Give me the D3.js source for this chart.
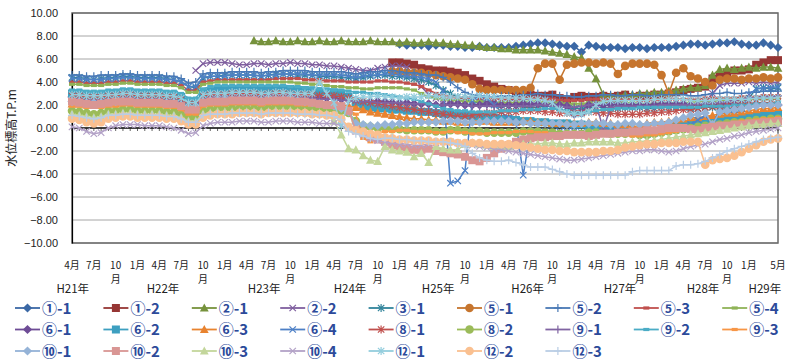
<!DOCTYPE html>
<html>
<head>
<meta charset="utf-8">
<script src="https://cdn.jsdelivr.net/npm/d3@7"></script>
<style>
  body { margin: 0; background: #fff; }
  svg { display: block; }
</style>
</head>
<body>
<div id="chart"></div>
<script>
// months run from 4月 H21 (index 0) to 5月 H29 (index 97)
const lead = (n, vals) => Array(n).fill(null).concat(vals);

const seriesNames = ['①-1','①-2','②-1','②-2','③-1','⑤-1','⑤-2','⑤-3','⑤-4',
  '⑥-1','⑥-2','⑥-3','⑥-4','⑧-1','⑧-2','⑨-1','⑨-2','⑨-3',
  '⑩-1','⑩-2','⑩-3','⑩-4','⑫-1','⑫-2','⑫-3'];

const seriesColors = ['#3b68a5','#963634','#76923c','#7f5f9f','#31849b','#c6752e','#4979b5','#c0504d','#8fb357',
  '#6e4c96','#3d9fc0','#e8832f','#4e80c6','#c0504d','#9bbb59','#8064a2','#4bacc6','#f79646',
  '#95b3d7','#d99694','#c3d69b','#b3a2c7','#93cddd','#fac090','#b9cde5'];

const seriesMarkers = ['diamond','square','triangle','x','star','circle','plus','dash','dash',
  'diamond','square','triangle','x','star','circle','plus','dash','dash',
  'diamond','square','triangle','x','star','circle','plus'];

const s01 = lead(45, [7.3,7.2,7.2,
  7.2,7.1,7.2,7.2,7.1,7.1,7.0,7.0,7.1,7.0,7.0,7.0,
  7.0,7.1,7.2,7.3,7.4,7.4,7.3,7.2,7.1,7.1,6.6,7.2,
  7.1,7.0,7.0,7.0,6.9,7.0,7.0,6.9,7.0,7.0,7.0,7.1,
  7.2,7.3,7.3,7.2,7.3,7.4,7.4,7.5,7.3,7.2,7.2,7.4,
  7.2,7.0]);
const s02 = lead(44, [5.7,5.7,5.6,5.5,
  5.2,5.1,5.0,5.0,4.9,4.8,4.6,4.3,4.1,3.8,3.6,3.4,
  3.3,3.0,2.9,2.9,2.8,2.8,2.9,2.6,2.4,2.7,2.8,2.7,
  2.7,2.8,2.7,2.8,2.9,2.7,2.8,2.8,2.9,2.9,3.0,3.1,
  3.3,3.4,3.5,3.6,4.3,4.6,4.8,5.0,5.0,5.1,5.5,5.7,
  5.9,5.9]);
const s03 = lead(25, [7.6,7.5,7.5,7.6,7.5,7.5,7.6,7.5,7.5,7.6,7.5,
  7.5,7.6,7.5,7.5,7.5,7.6,7.5,7.5,7.5,7.4,7.5,7.4,
  7.4,7.5,7.4,7.4,7.3,7.3,7.2,7.2,7.1,7.0,7.0,6.9,
  6.9,6.8,6.8,6.8,6.8,6.7,6.6,6.5,6.4,6.2,6.1,5.2,
  4.3,2.9,2.8,2.8,2.9,2.9,3.0,3.0,3.1,3.1,3.2,3.3,
  3.4,3.5,3.5,3.7,4.6,5.1,5.2,5.1,5.2,5.3,5.2,5.3,
  5.3,5.2]);
const s04 = lead(17, [5.0,5.6,5.7,5.7,5.7,5.6,5.5,
  5.5,5.6,5.6,5.5,5.6,5.6,5.7,5.6,5.6,5.5,5.5,5.4,
  5.4,5.3,5.2,5.1,5.0,5.0,5.2,5.3,5.4,5.4,5.3,4.6,
  3.6,2.9,2.6,2.5,2.5,2.4,2.4,2.5,2.5,2.4,2.5,2.5,
  2.4,2.4,2.5,2.5,2.6,2.5,2.4,2.3,2.2,1.3,1.4,2.3,
  2.3,2.2,2.2,2.3,2.2,2.2,2.1,2.0,2.0,2.1,2.1,2.0,
  1.9,1.8,1.7,2.2,3.0,3.7,3.9,3.9,3.9,4.0,3.9,4.0,
  3.9,4.0]);
const s05 = [4.4,4.4,4.3,4.2,4.3,4.4,4.4,4.5,4.5,4.4,4.4,4.4,
  4.4,4.3,4.2,4.0,3.6,3.5,4.3,4.5,4.5,4.6,4.6,4.6,
  4.6,4.6,4.5,4.6,4.7,4.7,4.7,4.6,4.6,4.6,4.5,4.5,
  4.5,4.4,4.4,4.3,4.4,4.5,4.6,4.6,4.5,4.5,4.4,4.3,
  4.2,4.0,3.7,3.3,3.0,2.7,2.5,2.3,2.2,2.1,2.0,2.0,
  1.9,1.9,1.8,1.8,1.8,1.9,1.9,1.8,1.8,1.7,1.7,1.8,
  1.8,1.8,1.7,1.7,1.8,1.8,1.8,1.7,1.7,1.8,1.8,1.8,
  1.8,1.7,1.7,1.8,1.8,1.8,1.7,1.7,1.8,2.6,3.4,3.5,
  3.4,3.5];
const s06 = lead(44, [4.9,4.9,4.8,4.8,
  4.8,4.7,4.6,4.5,4.4,4.3,4.2,3.8,3.4,3.3,3.3,3.3,
  3.3,3.3,3.3,3.5,5.2,5.6,5.6,4.2,5.5,5.6,5.7,5.7,
  5.6,5.7,5.6,4.7,5.4,5.6,5.6,5.6,5.5,4.6,3.0,4.8,
  5.2,4.5,4.3,4.0,3.7,4.2,4.3,4.3,4.2,4.3,4.3,4.4,
  4.3,4.4]);
const s07 = [4.6,4.6,4.5,4.5,4.6,4.6,4.6,4.7,4.7,4.6,4.6,4.6,
  4.6,4.5,4.5,4.3,3.9,4.0,4.7,4.8,4.8,4.8,4.9,4.9,
  4.9,4.9,4.8,4.9,4.9,5.0,5.0,5.0,5.0,4.9,4.9,4.9,
  4.9,4.9,4.8,4.7,4.8,4.9,4.9,5.0,5.0,4.9,4.8,4.8,
  4.7,4.6,4.6,4.4,4.0,3.5,3.1,2.9,2.8,2.7,2.7,2.8,
  2.8,2.8,2.9,2.9,3.0,2.9,2.9,2.8,2.8,2.7,2.7,2.8,
  2.8,2.9,2.9,2.8,2.8,2.9,2.9,2.8,2.8,2.9,2.9,2.9,
  2.9,2.8,2.8,2.9,3.0,3.0,3.1,3.0,3.0,3.1,3.1,3.2,
  3.2,3.2];
const s08 = [4.0,4.0,3.9,3.9,3.9,4.0,4.0,4.1,4.1,4.0,4.0,4.0,
  4.0,3.9,3.9,3.7,3.3,3.3,4.0,4.1,4.2,4.2,4.2,4.2,
  4.2,4.2,4.2,4.2,4.3,4.3,4.3,4.3,4.2,4.2,4.2,4.1,
  4.1,4.1,4.0,4.0,4.0,4.0,4.1,4.1,4.0,4.0,3.9,3.8,
  3.6,3.3,3.0,2.8,2.7,2.6,2.6,2.6,2.6,2.5,2.5,2.5,
  2.5,2.5,2.6,2.6,2.6,2.5,2.5,2.4,2.4,2.4,2.4,2.5,
  2.5,2.5,2.5,2.5,2.5,2.5,2.4,2.4,2.4,2.5,2.5,2.5,
  2.5,2.5,2.5,2.6,2.6,2.6,2.6,2.6,2.7,2.7,2.7,2.8,
  2.8,2.8];
const s09 = [3.8,3.8,3.7,3.7,3.7,3.8,3.8,3.9,3.9,3.8,3.8,3.8,
  3.8,3.7,3.7,3.5,3.1,3.1,3.8,3.9,4.0,4.0,4.0,4.0,
  4.0,4.0,4.0,4.0,4.0,4.0,4.0,3.9,3.9,3.8,3.8,3.7,
  3.6,3.6,3.5,3.5,3.4,3.4,3.5,3.5,3.5,3.5,3.4,3.3,
  3.0,2.7,2.6,2.5,2.4,2.4,2.3,2.3,2.3,2.3,2.2,2.2,
  2.2,2.2,2.3,2.3,2.3,2.2,2.2,2.2,2.1,2.1,2.1,2.2,
  2.2,2.2,2.2,2.2,2.2,2.2,2.1,2.1,2.1,2.2,2.2,2.2,
  2.2,2.2,2.3,2.3,2.3,2.4,2.4,2.4,2.4,2.5,2.5,2.5,
  2.5,2.5];
const s10 = [2.7,2.7,2.6,2.6,2.6,2.7,2.7,2.8,2.8,2.7,2.7,2.7,
  2.7,2.6,2.6,2.4,2.1,2.1,2.7,2.8,2.8,2.8,2.8,2.8,
  2.8,2.8,2.7,2.8,2.8,2.8,2.8,2.7,2.7,2.7,2.6,2.6,
  2.6,2.5,2.5,2.4,2.3,2.3,2.3,2.3,2.2,2.2,2.2,2.1,
  2.1,2.1,2.0,2.0,2.1,2.1,2.0,2.0,2.0,2.1,2.1,2.0,
  2.0,2.0,2.1,2.1,2.1,2.0,2.0,2.0,1.9,1.2,1.3,2.0,
  2.0,2.0,2.1,2.1,2.0,2.0,2.0,2.0,2.0,2.1,2.1,2.1,
  2.1,2.0,2.0,2.1,2.1,2.1,2.1,2.1,2.1,2.1,2.1,2.0,
  2.0,2.0];
const s11 = [3.0,3.0,2.9,2.9,2.9,3.0,3.0,3.1,3.1,3.0,3.0,3.0,
  3.0,2.9,2.9,2.7,2.3,2.3,3.0,3.2,3.3,3.3,3.3,3.3,
  3.3,3.3,3.3,3.3,3.4,3.4,3.4,3.3,3.3,3.2,3.2,3.1,
  3.1,3.0,2.7,2.2,1.9,1.8,1.7,1.7,1.6,1.6,1.5,1.5,
  1.4,1.4,1.3,1.2,1.2,1.1,1.1,1.0,1.0,0.9,0.9,0.8,
  0.8,0.7,0.6,0.6,0.5,0.5,0.4,0.4,0.4,0.3,0.3,0.2,
  0.2,0.1,0.1,0.0,0.0,-0.2,-0.4,-0.5,-0.4,-0.2,0.0,0.2,
  0.3,0.4,0.5,0.6,0.7,0.8,0.8,0.9,0.9,1.0,1.0,1.1,
  1.1,1.2];
const s12 = [2.1,2.1,2.0,2.0,2.0,2.1,2.1,2.2,2.2,2.1,2.1,2.1,
  2.1,2.0,2.0,1.8,1.4,1.4,2.1,2.2,2.2,2.2,2.3,2.3,
  2.3,2.3,2.2,2.3,2.3,2.3,2.3,2.2,2.2,2.2,2.1,2.1,
  2.1,2.0,1.9,1.8,1.6,1.4,1.3,1.2,1.1,1.0,0.9,0.8,
  0.8,0.7,0.7,0.6,0.6,0.5,0.5,0.6,0.6,0.6,0.5,0.5,
  0.5,0.5,0.6,0.6,0.5,0.5,0.4,0.4,0.4,0.4,0.4,0.5,
  0.5,0.4,0.4,0.3,0.3,0.3,0.3,0.4,0.5,0.5,0.6,0.7,
  0.8,0.9,0.9,1.0,1.1,1.2,1.3,1.3,1.4,1.5,1.6,1.7,
  1.7,1.8];
const s13 = [4.3,4.3,4.2,4.2,4.2,4.3,4.3,4.4,4.4,4.3,4.3,4.3,
  4.3,4.2,4.2,4.0,3.6,3.6,4.4,4.5,4.5,4.5,4.6,4.6,
  4.6,4.6,4.5,4.6,4.6,4.7,4.7,4.7,4.7,4.6,4.6,4.6,
  4.6,4.6,4.5,4.4,4.5,4.6,4.6,4.7,4.7,4.6,4.5,4.5,
  4.4,4.3,4.0,3.2,-4.8,-4.6,-3.7,2.4,2.8,2.6,2.0,1.4,
  0.8,0.5,-4.1,-0.3,-0.3,-0.3,-0.4,-0.3,-0.3,-0.3,-0.4,-0.3,
  -0.4,-0.3,-0.3,-0.3,-0.4,-0.3,-0.3,-0.3,-0.3,-0.2,-0.3,-0.2,
  0.0,0.3,0.7,1.1,0.3,1.5,1.6,1.6,1.7,2.9,3.4,3.5,
  3.5,3.6];
const s14 = [2.8,2.8,2.7,2.7,2.7,2.8,2.8,2.9,2.9,2.8,2.8,2.8,
  2.8,2.7,2.7,2.5,2.1,2.1,2.8,2.9,2.9,2.9,3.0,3.0,
  3.0,3.0,2.9,3.0,3.0,3.0,3.0,2.9,2.9,2.9,2.8,2.8,
  2.8,2.7,2.6,2.4,2.3,2.2,2.1,2.0,1.9,1.8,1.7,1.6,
  1.5,1.4,1.3,1.2,1.1,1.0,1.0,1.1,1.2,1.3,1.3,1.4,
  1.4,1.4,1.5,1.5,1.5,1.4,1.4,1.3,1.3,1.3,1.3,1.4,
  1.4,1.3,1.3,1.2,1.2,1.2,1.2,1.3,1.3,1.4,1.4,1.5,
  1.6,1.6,1.7,1.8,1.9,1.9,2.0,2.0,2.1,2.1,2.2,2.2,
  2.2,2.3];
const s15 = [1.5,1.4,1.3,1.2,1.3,1.5,1.5,1.6,1.6,1.5,1.5,1.5,
  1.5,1.4,1.4,1.2,0.9,0.9,1.5,1.6,1.7,1.7,1.7,1.7,
  1.7,1.7,1.7,1.7,1.8,1.8,1.8,1.7,1.7,1.7,1.6,1.6,
  1.6,1.5,1.3,0.6,0.2,0.1,0.0,0.0,-0.1,-0.1,-0.2,-0.2,
  -0.2,-0.2,-0.3,-0.3,-0.2,-0.2,-0.3,-0.3,-0.3,-0.4,-0.4,-0.4,
  -0.4,-0.4,-0.3,-0.3,-0.3,-0.4,-0.4,-0.5,-0.5,-0.5,-0.5,-0.4,
  -0.4,-0.4,-0.5,-0.5,-0.5,-0.5,-0.6,-0.6,-0.5,-0.4,-0.3,-0.2,
  -0.1,0.0,0.1,0.2,0.3,0.3,0.4,0.5,0.5,0.6,0.7,0.7,
  0.8,0.8];
const s16 = [2.5,2.5,2.4,2.4,2.4,2.5,2.5,2.6,2.6,2.5,2.5,2.5,
  2.5,2.4,2.4,2.2,1.9,1.9,2.5,2.6,2.6,2.6,2.7,2.7,
  2.7,2.7,2.6,2.7,2.7,2.7,2.7,2.6,2.6,2.6,2.5,2.5,
  2.5,2.4,2.4,2.3,2.3,2.3,2.2,2.2,2.2,2.2,2.1,2.1,
  2.1,2.1,2.0,2.0,2.0,2.0,2.0,1.9,1.9,1.9,1.9,1.9,
  1.9,1.9,1.9,1.9,2.0,2.0,1.9,1.9,1.8,1.8,1.9,2.0,
  2.1,-0.1,1.8,1.9,1.9,1.9,1.9,1.9,1.9,2.0,2.0,2.0,
  2.0,2.0,2.1,2.1,2.2,2.2,2.3,2.4,2.5,2.6,2.6,2.7,
  2.7,2.8];
const s17 = [3.3,3.3,3.2,3.2,3.2,3.3,3.3,3.4,3.4,3.3,3.3,3.3,
  3.3,3.2,3.2,3.0,2.6,2.6,3.4,3.6,3.7,3.7,3.7,3.7,
  3.7,3.7,3.7,3.7,3.7,3.7,3.6,3.6,3.5,3.5,3.4,3.4,
  3.3,3.3,3.2,3.1,3.1,3.0,3.0,2.9,2.8,2.7,2.6,2.5,
  2.3,2.1,1.9,1.7,1.6,1.5,1.5,1.4,1.4,1.4,1.4,1.5,
  1.5,1.5,1.6,1.6,1.6,1.7,1.7,1.6,1.5,1.3,1.3,1.4,
  1.5,1.6,1.6,1.7,1.7,1.7,1.8,1.8,1.8,1.8,1.8,1.8,
  1.8,1.8,1.8,1.9,1.9,1.9,1.9,2.0,2.0,2.0,2.1,2.1,
  2.1,2.2];
const s18 = [1.9,1.9,1.8,1.8,1.8,1.9,1.9,2.0,2.0,1.9,1.9,1.9,
  1.9,1.8,1.8,1.6,1.2,1.2,1.9,2.0,2.0,2.0,2.1,2.1,
  2.1,2.1,2.0,2.1,2.1,2.1,2.1,2.0,2.0,2.0,1.9,1.9,
  1.9,1.8,1.6,1.2,-0.9,-1.2,-0.4,-0.3,-0.3,-0.2,-0.2,-0.3,
  -0.3,-0.3,-0.4,-0.4,-0.3,-0.4,-0.4,-0.5,-0.5,-0.5,-0.4,-0.4,
  -0.4,-0.3,-0.3,-0.3,-0.4,-0.4,-0.5,-0.5,-0.6,-0.6,-0.6,-0.5,
  -0.5,-0.5,-0.6,-0.6,-0.6,-0.7,-0.7,-0.6,-0.6,-0.5,-0.4,-0.3,
  -0.2,-0.1,0.0,0.1,0.2,0.3,0.4,0.5,0.6,0.6,0.7,0.8,
  0.8,0.9];
const s19 = [2.3,2.3,2.2,2.2,2.2,2.3,2.3,2.4,2.4,2.3,2.3,2.3,
  2.3,2.2,2.2,2.0,1.7,1.7,2.3,2.4,2.5,2.5,2.5,2.5,
  2.5,2.5,2.4,2.5,2.5,2.5,2.5,2.4,2.3,2.2,2.1,2.0,
  1.9,1.7,1.4,0.4,0.3,0.2,0.2,0.3,0.3,0.4,0.4,0.5,
  0.5,0.5,0.5,0.6,0.6,0.6,0.5,0.5,0.5,0.6,0.6,0.6,
  0.6,0.5,0.5,0.4,0.4,0.4,0.4,0.4,0.3,0.3,0.4,0.4,
  0.4,0.4,0.3,0.3,0.4,0.4,0.3,0.3,0.4,0.4,0.5,0.7,
  0.9,1.1,1.2,1.3,0.3,1.4,1.5,1.6,1.7,1.8,1.9,2.0,
  2.0,2.0];
const s20 = [2.3,2.2,2.1,2.0,2.1,2.2,2.3,2.3,2.3,2.2,2.2,2.2,
  2.2,2.1,2.1,1.9,1.6,1.6,2.2,2.3,2.3,2.3,2.4,2.4,
  2.4,2.4,2.3,2.4,2.4,2.4,2.4,2.3,2.3,2.2,2.1,2.0,
  2.0,1.9,1.5,-0.2,-0.4,-0.8,-1.0,-1.2,-1.5,-1.6,-1.8,-1.9,
  -1.9,-1.8,-2.0,-2.1,-2.2,-2.3,-2.5,-2.8,-2.9,-2.6,-2.2,-1.8,
  -1.5,-1.2,-1.0,-0.9,-0.8,-0.8,-0.7,-0.7,-0.6,-0.6,-0.6,-0.7,
  -0.6,-0.5,-0.5,-0.4,-0.4,-0.3,-0.3,-0.2,-0.2,-0.1,0.0,0.0,
  0.0,-0.1,-0.2,0.0,0.1,0.2,0.2,0.3,0.3,0.4,0.4,0.5,
  0.5,0.6];
const s21 = [1.2,1.1,1.0,0.9,1.0,1.2,1.2,1.3,1.3,1.2,1.2,1.2,
  1.2,1.1,1.1,0.9,0.6,0.6,1.2,1.3,1.4,1.4,1.4,1.4,
  1.4,1.4,1.4,1.4,1.5,1.5,1.5,1.4,1.4,1.3,1.3,1.2,
  0.6,-0.6,-1.8,-1.9,-2.4,-2.8,-2.9,-1.6,-1.9,-2.0,-2.1,-2.5,
  -2.2,-3.0,-1.6,-1.8,-1.9,-1.9,-1.4,-1.3,-1.4,-1.5,-1.6,-1.6,
  -1.6,-1.5,-1.4,-1.4,-1.4,-1.3,-1.3,-1.4,-1.4,-1.3,-1.3,-1.2,
  -1.2,-1.2,-1.2,-1.3,-1.3,-1.2,-1.2,-1.1,-1.1,-1.0,-0.9,-0.8,
  -0.7,-0.6,-0.5,-0.4,-0.3,-0.2,-0.1,0.0,0.1,0.2,0.3,0.3,
  0.4,0.4];
const s22 = [0.1,0.0,-0.3,-0.5,-0.4,0.0,0.2,0.3,0.3,0.3,0.2,0.2,
  0.2,0.1,0.0,-0.2,-0.5,-0.4,0.2,0.4,0.5,0.5,0.5,0.6,
  0.6,0.6,0.5,0.5,0.6,0.6,0.6,0.5,0.5,0.5,0.4,0.4,
  0.4,0.2,0.0,-0.3,-0.6,-0.9,-1.1,-1.2,-1.3,-1.4,-1.4,-1.5,
  -1.5,-1.4,-1.3,-1.2,-1.2,-1.3,-1.4,-1.5,-1.6,-1.7,-1.8,-1.9,
  -2.0,-2.1,-2.2,-2.3,-2.4,-2.5,-2.6,-2.7,-2.8,-2.8,-2.7,-2.6,
  -2.5,-2.4,-2.3,-2.2,-2.1,-2.0,-2.0,-1.9,-1.9,-2.0,-2.1,-2.0,
  -1.8,-1.6,-1.5,-1.4,-1.2,-1.0,-0.9,-0.7,-0.6,-0.4,-0.3,-0.2,
  -0.1,0.0];
const s23 = [2.9,2.9,2.8,2.8,2.8,2.9,2.9,3.0,3.0,2.9,2.9,2.9,
  2.9,2.8,2.8,2.6,2.2,2.2,2.9,3.0,3.0,3.0,3.1,3.1,
  3.1,3.1,3.0,3.0,3.1,3.1,3.0,3.0,3.0,3.0,4.0,3.0,
  2.2,0.2,2.4,2.6,2.7,2.7,2.8,2.7,2.7,2.6,2.7,2.7,
  2.7,2.8,2.8,2.7,2.7,2.7,2.7,2.7,2.8,2.7,2.7,2.6,
  2.6,2.6,2.6,2.5,2.5,2.4,2.2,1.6,1.3,1.2,1.2,1.4,
  2.0,2.3,2.4,2.4,2.4,2.4,2.4,2.4,2.5,2.5,2.5,2.5,
  2.5,2.4,2.4,2.4,2.4,2.5,2.5,2.5,2.5,2.5,2.6,2.6,
  2.6,2.6];
const s24 = [0.8,0.7,0.5,0.4,0.5,0.8,0.9,1.0,1.0,0.9,0.9,0.9,
  0.9,0.8,0.8,0.6,0.3,0.3,0.9,1.1,1.2,1.2,1.2,1.3,
  1.3,1.3,1.2,1.3,1.3,1.3,1.3,1.3,1.3,1.2,1.2,1.1,
  1.1,0.8,0.1,-0.2,-0.3,-0.5,-0.6,-0.8,-0.9,-1.0,-1.0,-1.1,
  -1.1,-1.1,-1.2,-1.2,-1.2,-1.3,-1.3,-1.3,-1.3,-1.4,-1.4,-1.4,
  -1.4,-1.5,-1.6,-1.7,-1.8,-1.9,-1.9,-2.0,-2.0,-2.1,-2.1,-2.1,
  -2.1,-2.0,-2.0,-1.9,-1.7,-1.6,-1.5,-1.4,-1.4,-1.3,-1.3,-1.3,
  -1.2,-1.2,-1.2,-3.2,-2.8,-2.7,-2.6,-2.4,-2.1,-1.8,-1.5,-1.2,
  -1.0,-0.9];
const s25 = [1.1,1.0,0.9,0.8,0.9,1.1,1.1,1.2,1.2,1.1,1.1,1.1,
  1.1,1.0,1.0,0.8,0.5,0.5,1.1,1.2,1.2,1.2,1.3,1.3,
  1.3,1.3,1.2,1.3,1.3,1.3,1.3,1.2,1.2,1.2,1.1,1.1,
  1.0,0.7,-0.3,-0.5,-0.7,-0.9,-1.0,-0.9,-0.9,-1.0,-1.0,-1.1,
  -1.1,-1.2,-1.2,-1.2,-1.3,-1.4,-1.6,-2.2,-2.6,-2.8,-2.9,-2.9,
  -2.8,-3.0,-3.2,-3.4,-3.4,-3.4,-3.6,-3.8,-4.0,-4.1,-4.1,-4.1,
  -4.1,-4.1,-4.1,-4.1,-4.1,-3.8,-3.7,-3.7,-3.7,-3.7,-3.7,-3.3,
  -3.2,-3.2,-3.1,-2.9,-2.6,-2.3,-2.0,-1.8,-1.6,-1.4,-1.2,-1.0,
  -0.9,-0.8];

const seriesValues = [s01,s02,s03,s04,s05,s06,s07,s08,s09,s10,s11,s12,s13,
  s14,s15,s16,s17,s18,s19,s20,s21,s22,s23,s24,s25];

const tickMonths = [0,3,6,9,12,15,18,21,24,27,30,33,36,39,42,45,48,51,54,57,60,63,66,69,
  72,75,78,81,84,87,90,93,97];
const tickLabels = ['4月','7月','10月','1月','4月','7月','10月','1月','4月','7月','10月','1月',
  '4月','7月','10月','1月','4月','7月','10月','1月','4月','7月','10月','1月',
  '4月','7月','10月','1月','4月','7月','10月','1月','5月'];
const yearLabels = ['H21年','H22年','H23年','H24年','H25年','H26年','H27年','H28年','H29年'];
// where each year label sits, in month units
const yearLabelAt = [0.1,12.5,26.4,38.2,50.3,62.6,75.3,86.7,95.2];

const dims = { width: 795, height: 361, margin: { top: 13, right: 17, bottom: 118, left: 72 } };
dims.ctrWidth = dims.width - dims.margin.left - dims.margin.right;
dims.ctrHeight = dims.height - dims.margin.top - dims.margin.bottom;

seriesValues.forEach((s, i) => {
  if (s.length !== 98) throw new Error(seriesNames[i] + ' has ' + s.length + ' values');
});

const svg = d3.select('#chart').append('svg')
  .attr('width', dims.width)
  .attr('height', dims.height);

const ctr = svg.append('g')
  .attr('transform', `translate(${dims.margin.left},${dims.margin.top})`);

const xScale = d3.scaleLinear().domain([0, 97]).range([0, dims.ctrWidth]);
const yScale = d3.scaleLinear().domain([-10, 10]).range([dims.ctrHeight, 0]);

// gridlines
ctr.append('g')
  .selectAll('line')
  .data(d3.range(-10, 11, 2).filter(v => v !== 0))
  .join('line')
  .attr('x1', 0).attr('x2', dims.ctrWidth)
  .attr('y1', d => yScale(d)).attr('y2', d => yScale(d))
  .attr('stroke', '#a6a6a6').attr('stroke-width', 1);

// frame
ctr.append('rect')
  .attr('x', 0).attr('y', 0)
  .attr('width', dims.ctrWidth).attr('height', dims.ctrHeight)
  .attr('fill', 'none').attr('stroke', '#6a6a6a').attr('stroke-width', 1.5);

// value axis
const yAxis = d3.axisLeft(yScale)
  .tickValues(d3.range(-10, 11, 2))
  .tickFormat(d3.format('.2f'))
  .tickSize(0)
  .tickPadding(14);
const yAxisGroup = ctr.append('g').call(yAxis);
yAxisGroup.select('.domain').attr('stroke', '#000').attr('stroke-width', 1.2);
yAxisGroup.selectAll('text')
  .attr('font-family', '"Liberation Sans", Arial, sans-serif')
  .attr('font-size', 11).attr('fill', '#222');

svg.append('text')
  .attr('transform', `translate(16,${dims.margin.top + yScale(0)}) rotate(-90)`)
  .attr('text-anchor', 'middle')
  .attr('font-family', '"Noto Sans CJK JP", sans-serif')
  .attr('font-size', 12).attr('fill', '#222')
  .text('水位標高T.P.m');

// category axis crosses at 0
ctr.append('line')
  .attr('x1', 0).attr('x2', dims.ctrWidth)
  .attr('y1', yScale(0)).attr('y2', yScale(0))
  .attr('stroke', '#000').attr('stroke-width', 1.3);
ctr.append('g')
  .selectAll('line')
  .data(d3.range(0, 98))
  .join('line')
  .attr('x1', d => xScale(d)).attr('x2', d => xScale(d))
  .attr('y1', yScale(0)).attr('y2', yScale(0) + 3)
  .attr('stroke', '#222').attr('stroke-width', 0.7);

// month labels under the plot
const labelFont = '"Noto Sans CJK JP", sans-serif';
const monthG = ctr.append('g')
  .attr('font-family', labelFont).attr('font-size', 10)
  .attr('fill', '#222').attr('text-anchor', 'middle');
tickMonths.forEach((m, k) => {
  const lab = tickLabels[k];
  const t = monthG.append('text')
    .attr('x', xScale(m))
    .attr('y', dims.ctrHeight + 26);
  if (lab.length > 2) {
    t.append('tspan').attr('x', xScale(m)).text(lab.slice(0, 2));
    t.append('tspan').attr('x', xScale(m)).attr('dy', 14).text(lab.slice(2));
  } else {
    t.text(lab);
  }
});
ctr.append('g')
  .attr('font-family', labelFont).attr('font-size', 11.5)
  .attr('fill', '#222').attr('text-anchor', 'middle')
  .selectAll('text')
  .data(yearLabels)
  .join('text')
  .attr('x', (d, i) => xScale(yearLabelAt[i]))
  .attr('y', dims.ctrHeight + 50)
  .text(d => d);

// marker shapes
function markerShape(g, type, color, cx, cy) {
  const s = 4;
  if (type === 'diamond') {
    g.append('path').attr('d', `M${cx},${cy - s - 0.6}L${cx + s + 0.6},${cy}L${cx},${cy + s + 0.6}L${cx - s - 0.6},${cy}Z`)
      .attr('fill', color);
  } else if (type === 'square') {
    g.append('rect').attr('x', cx - s).attr('y', cy - s).attr('width', 2 * s).attr('height', 2 * s)
      .attr('fill', color);
  } else if (type === 'triangle') {
    g.append('path').attr('d', `M${cx},${cy - s - 0.6}L${cx + s + 0.4},${cy + s - 0.4}L${cx - s - 0.4},${cy + s - 0.4}Z`)
      .attr('fill', color);
  } else if (type === 'circle') {
    g.append('circle').attr('cx', cx).attr('cy', cy).attr('r', s + 0.3).attr('fill', color);
  } else if (type === 'dash') {
    g.append('rect').attr('x', cx - 3).attr('y', cy - 1.6).attr('width', 6).attr('height', 3.2)
      .attr('fill', color);
  } else {
    let d = '';
    const a = s - 0.8;
    if (type === 'x' || type === 'star') d += `M${cx - a},${cy - a}L${cx + a},${cy + a}M${cx - a},${cy + a}L${cx + a},${cy - a}`;
    if (type === 'star') d += `M${cx},${cy - s}L${cx},${cy + s}`;
    if (type === 'plus') d += `M${cx - s},${cy}L${cx + s},${cy}M${cx},${cy - s}L${cx},${cy + s}`;
    g.append('path').attr('d', d).attr('stroke', color).attr('stroke-width', 1.2).attr('fill', 'none');
  }
}

// series
const line = d3.line()
  .defined(d => d != null)
  .x((d, i) => xScale(i))
  .y(d => yScale(d));

seriesValues.forEach((vals, k) => {
  const g = ctr.append('g');
  g.append('path')
    .attr('d', line(vals))
    .attr('fill', 'none')
    .attr('stroke', seriesColors[k])
    .attr('stroke-width', 1.5);
  vals.forEach((v, i) => {
    if (v == null) return;
    markerShape(g, seriesMarkers[k], seriesColors[k], xScale(i), yScale(v));
  });
});

// legend, 9 per row
const legend = svg.append('g');
seriesNames.forEach((name, k) => {
  const col = k % 9, row = Math.floor(k / 9);
  const lx = 15 + col * 88.4, ly = 308 + row * 21.5;
  const g = legend.append('g');
  g.append('line')
    .attr('x1', lx).attr('x2', lx + 25)
    .attr('y1', ly).attr('y2', ly)
    .attr('stroke', seriesColors[k]).attr('stroke-width', 1.8);
  markerShape(g, seriesMarkers[k], seriesColors[k], lx + 12.5, ly);
  g.append('text')
    .attr('x', lx + 27).attr('y', ly + 5.5)
    .attr('font-family', labelFont)
    .attr('font-weight', 'bold').attr('font-size', 15)
    .attr('fill', '#2c4a9a')
    .text(name);
});
</script>
</body>
</html>
